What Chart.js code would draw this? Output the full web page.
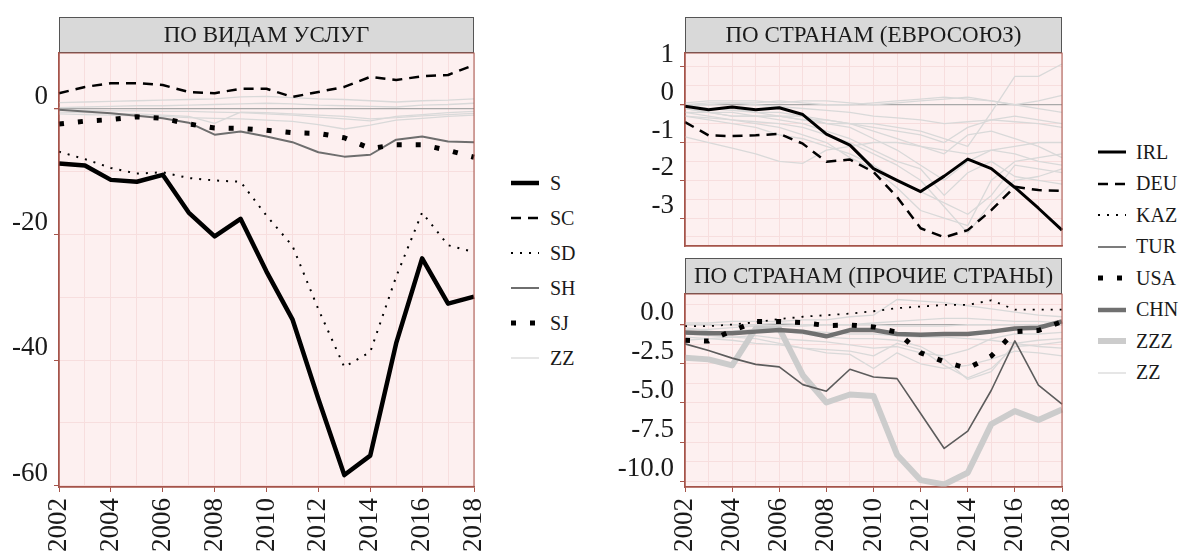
<!DOCTYPE html>
<html>
<head>
<meta charset="utf-8">
<script src="https://cdn.jsdelivr.net/npm/chart.js@4.4.0/dist/chart.umd.min.js"></script>
<style>
  body { margin: 0; width: 1184px; height: 553px; overflow: hidden; position: relative; background: #fff;
         font-family: "Liberation Serif", "Times New Roman", Tinos, "Nimbus Roman", "DejaVu Serif", "Noto Serif", serif; }
  .box { position: absolute; }
  .legend { position: absolute; color: #1a1a1a; font-size: 20px; }
  .legend .row { display: flex; align-items: center; }
  .legend svg { flex: none; }
</style>
</head>
<body>
<div class="box" style="left:0;top:0"><canvas id="services" width="490" height="553"></canvas></div>
<div class="box" style="left:600px;top:0"><canvas id="eu" width="480" height="250"></canvas></div>
<div class="box" style="left:600px;top:250px"><canvas id="other" width="480" height="303"></canvas></div>
<div class="legend" id="legServices" style="left:511px;top:165.5px"></div>
<div class="legend" id="legCountries" style="left:1098px;top:136.5px"></div>

<script>
const years = ["2002","2003","2004","2005","2006","2007","2008","2009","2010","2011","2012","2013","2014","2015","2016","2017","2018"];

// по видам услуг
const S  = [-8.7, -9.0, -11.3, -11.6, -10.5, -16.5, -20.3, -17.5, -25.9, -33.5, -46.2, -58.3, -55.2, -37.3, -23.8, -31.0, -29.9];
const SC = [2.5, 3.5, 4.1, 4.1, 3.8, 2.7, 2.5, 3.2, 3.2, 1.9, 2.7, 3.5, 5.1, 4.6, 5.2, 5.4, 7.0];
const SD = [-6.8, -8.0, -9.4, -10.3, -10.1, -11.0, -11.4, -11.6, -17.0, -21.8, -31.9, -41.1, -38.7, -26.7, -16.5, -21.7, -22.8];
const SH = [-0.15, -0.4, -0.7, -1.1, -1.5, -2.2, -4.1, -3.6, -4.4, -5.3, -6.9, -7.6, -7.3, -4.9, -4.4, -5.2, -5.3];
const SJ = [-2.4, -1.95, -1.7, -1.25, -1.5, -2.4, -3.05, -3.1, -3.4, -3.8, -3.9, -4.6, -6.3, -5.7, -5.7, -6.6, -7.7];
const zzServices = [
  [1.0, 1.1, 1.2, 1.3, 1.4, 1.5, 1.6, 1.9, 2.0, 1.8, 1.6, 1.5, 1.3, 1.1, 1.3, 1.4, 1.6],
  [0.2, 0.3, 0.4, 0.5, 0.5, 0.6, 0.7, 0.8, 0.9, 0.8, 0.6, 0.5, 0.4, 0.3, 0.6, 0.7, 0.9],
  [-0.5, -0.6, -0.7, -0.8, -1.0, -1.2, -2.3, -0.5, -0.6, -0.8, -1.0, -1.2, -1.6, -1.4, -1.1, -0.9, -0.7],
  [-0.8, -0.9, -1.0, -1.1, -1.2, -1.4, -1.5, -1.6, -1.8, -2.0, -2.5, -3.2, -2.6, -1.8, -1.5, -1.2, -1.0],
  [-0.2, -0.2, -0.3, -0.3, -0.4, -0.4, -0.5, -0.6, -0.8, -1.0, -1.3, -1.6, -1.9, -1.2, -0.9, -0.6, -0.4]
];

// по странам (евросоюз)
const IRL = [-0.04, -0.13, -0.06, -0.13, -0.08, -0.26, -0.78, -1.07, -1.69, -2.0, -2.3, -1.89, -1.44, -1.69, -2.19, -2.74, -3.32];
const DEU = [-0.46, -0.81, -0.83, -0.81, -0.77, -1.03, -1.51, -1.45, -1.78, -2.44, -3.27, -3.51, -3.32, -2.79, -2.17, -2.26, -2.28];
const zzEU = [
  [-0.1, -0.2, -0.2, -0.3, -0.3, -0.4, -0.4, -0.5, -0.5, -0.6, -0.7, -0.9, -1.1, -0.2, 0.75, 0.75, 1.08],
  [0.05, 0.1, 0.1, 0.1, 0.05, 0.1, 0.1, 0.05, 0.0, 0.05, 0.1, 0.15, 0.2, 0.1, 0.0, 0.1, 0.25],
  [-0.85, -1.0, -1.15, -1.3, -1.5, -1.55, -1.2, -1.1, -1.0, -1.0, -1.1, -1.2, -1.3, -1.2, -1.1, -1.0, -1.0],
  [-0.2, -0.3, -0.4, -0.5, -0.6, -0.8, -1.0, -1.4, -1.7, -2.2, -2.8, -3.0, -3.2, -2.0, -1.5, -1.4, -1.3],
  [-0.1, -0.2, -0.3, -0.3, -0.4, -0.5, -0.7, -0.9, -1.2, -1.5, -1.7, -2.4, -1.8, -1.5, -1.9, -2.0, -2.1],
  [0.0, -0.1, -0.1, -0.2, -0.2, -0.3, -0.4, -0.5, -0.7, -0.9, -1.1, -1.3, -0.8, -0.7, -0.9, -1.1, -1.4],
  [-0.3, -0.4, -0.5, -0.6, -0.8, -0.9, -1.1, -1.3, -1.6, -2.0, -2.3, -2.6, -2.9, -2.4, -1.6, -1.7, -1.8],
  [0.0, 0.0, 0.05, 0.05, 0.1, 0.05, 0.0, 0.0, 0.05, 0.1, 0.15, 0.2, 0.15, 0.1, 0.0, -0.1, -0.2],
  [-0.2, -0.2, -0.3, -0.3, -0.3, -0.4, -0.5, -0.5, -0.6, -0.7, -0.8, -1.0, -0.6, -0.4, -0.3, -0.4, -0.5],
  [-0.3, -0.35, -0.4, -0.45, -0.5, -0.6, -0.8, -1.0, -1.3, -1.6, -2.0, -2.7, -3.4, -2.6, -2.0, -1.9, -1.7],
  [-0.05, -0.1, -0.15, -0.2, -0.3, -0.3, -0.5, -0.6, -0.9, -1.2, -1.6, -2.0, -1.5, -1.2, -1.3, -1.5, -1.6],
  [0.0, 0.05, 0.05, 0.0, -0.05, -0.1, -0.15, -0.2, -0.3, -0.35, -0.4, -0.5, -0.45, -0.4, -0.45, -0.5, -0.6]
];

// по странам (прочие страны)
const KAZ = [-0.1, -0.1, 0.0, 0.15, 0.35, 0.5, 0.6, 0.7, 0.85, 1.05, 1.15, 1.25, 1.25, 1.55, 0.95, 0.95, 0.95];
const TUR = [-1.23, -1.65, -2.14, -2.54, -2.7, -3.83, -4.25, -2.85, -3.34, -3.45, -5.67, -7.9, -6.79, -4.19, -1.04, -3.87, -5.07];
const USA = [-1.0, -1.05, -0.4, 0.2, 0.2, 0.12, -0.06, -0.03, -0.15, -0.49, -1.8, -2.37, -2.8, -2.0, -0.45, -0.38, 0.19];
const CHN = [-0.5, -0.55, -0.55, -0.45, -0.35, -0.45, -0.75, -0.35, -0.35, -0.6, -0.65, -0.6, -0.6, -0.45, -0.25, -0.2, 0.2];
const ZZZ = [-2.11, -2.22, -2.6, -0.25, -0.25, -3.23, -4.97, -4.46, -4.55, -8.3, -9.92, -10.2, -9.45, -6.35, -5.52, -6.09, -5.41];
const zzOther = [
  [0.1, 0.1, 0.2, 0.2, 0.2, 0.3, 0.3, 0.5, 0.6, 1.6, 1.5, 1.4, 1.2, 1.0, 0.8, 0.6, 0.5],
  [-0.3, -0.3, -0.2, -0.1, -0.1, -0.1, 0.0, 0.0, 0.1, 0.2, 0.3, 0.4, 0.4, 0.3, 0.2, 0.2, 0.1],
  [-0.6, -0.7, -0.8, -0.9, -1.2, -1.5, -1.6, -1.7, -2.0, -1.2, -1.6, -2.6, -3.4, -2.8, -1.4, -1.3, -1.1],
  [-0.8, -0.9, -1.0, -1.2, -1.3, -1.5, -1.8, -1.9, -2.8, -1.8, -2.5, -2.8, -2.6, -2.2, -1.7, -1.8, -2.0],
  [-0.2, -0.4, -0.6, -0.5, -0.4, -0.6, -0.8, -0.9, -0.9, -1.0, -1.4, -2.2, -3.5, -3.0, -1.2, -1.0, -0.9],
  [0.0, 0.0, 0.0, 0.0, 0.1, 0.0, 0.0, 0.0, 0.0, -0.1, -0.1, -0.1, 0.0, 0.0, 0.0, 0.0, 0.0],
  [-1.0, -0.9, -0.8, -0.7, -0.9, -1.0, -1.1, -1.3, -1.5, -1.4, -1.8, -2.0, -1.6, -0.9, -0.6, -0.6, -0.5],
  [-0.5, -0.5, -0.4, -0.3, -0.3, -0.4, -0.5, -0.6, -0.6, -0.7, -0.8, -0.8, -0.9, -1.0, -1.2, -1.4, -1.5]
];

// y tick positions (grid) per panel; labels only on the major ones
const yTicksServices = [-60, -50, -40, -30, -20, -10, 0];
const yTicksEU = [-3.5, -3, -2.5, -2, -1.5, -1, -0.5, 0, 0.5, 1];
const yTicksOther = [-10, -8.75, -7.5, -6.25, -5, -3.75, -2.5, -1.25, 0, 1.25];

const serif = '"Liberation Serif", "Times New Roman", Tinos, "Nimbus Roman", "DejaVu Serif", "Noto Serif", serif';
const axisCol = '#a5554b';
const gridCol = '#f7dede';
const zeroCol = '#a9a9a9';
const noCol = 'rgba(0,0,0,0)';
const tickFont = { family: serif, size: 27 };

const st = {
  S:   { color: '#000000', width: 4.5, dash: [] },
  SC:  { color: '#000000', width: 2.5, dash: [10, 7] },
  SD:  { color: '#000000', width: 2,   dash: [2, 7] },
  SH:  { color: '#6e6e6e', width: 2,   dash: [] },
  SJ:  { color: '#000000', width: 5,   dash: [5, 14] },
  ZZ:  { color: '#d9d9d9', width: 1.3, dash: [] },
  IRL: { color: '#000000', width: 3,   dash: [] },
  DEU: { color: '#000000', width: 2.5, dash: [10, 7] },
  KAZ: { color: '#000000', width: 1.8, dash: [2, 7] },
  TUR: { color: '#5c5c5c', width: 1.6, dash: [] },
  USA: { color: '#000000', width: 5,   dash: [5, 14] },
  CHN: { color: '#707070', width: 4.5, dash: [] },
  ZZZ: { color: '#cccccc', width: 6,   dash: [] }
};

function line(data, s) {
  return { data, borderColor: s.color, borderWidth: s.width, borderDash: s.dash,
           borderCapStyle: 'butt', borderJoinStyle: 'round', pointRadius: 0, tension: 0, fill: false };
}

const panelDecor = {
  id: 'panelDecor',
  beforeDraw(chart, args, opts) {
    const { ctx, chartArea: a } = chart;
    ctx.save();
    ctx.fillStyle = '#fdf0f0';
    ctx.fillRect(a.left, a.top, a.width, a.height);
    ctx.fillStyle = '#d9d9d9';
    ctx.fillRect(a.left, a.top - 36, a.width, 36);
    ctx.strokeStyle = '#555555';
    ctx.lineWidth = 1;
    ctx.strokeRect(a.left + 0.5, a.top - 35.5, a.width - 1, 35);
    ctx.fillStyle = '#1a1a1a';
    ctx.font = '23px ' + serif;
    ctx.textAlign = 'center';
    ctx.textBaseline = 'middle';
    ctx.fillText(opts.title, (a.left + a.right) / 2, a.top - 17);
    ctx.restore();
  },
  afterDraw(chart) {
    const { ctx, chartArea: a } = chart;
    ctx.save();
    ctx.strokeStyle = axisCol;
    ctx.lineWidth = 1;
    ctx.strokeRect(a.left, a.top, a.width, a.height);
    ctx.restore();
  }
};

function yScale(min, max, tickVals, isMajor, fmt, w) {
  return {
    min, max,
    afterBuildTicks: s => { s.ticks = tickVals.map(v => ({ value: v })); },
    afterFit: s => { s.width = w; s.paddingTop = 0; s.paddingBottom = 0; },
    border: { color: axisCol, width: 1.5 },
    grid: {
      color: c => (c.tick && Math.abs(c.tick.value) < 1e-9) ? zeroCol : gridCol,
      lineWidth: c => (c.tick && Math.abs(c.tick.value) < 1e-9) ? 1.3 : 1,
      tickLength: 5,
      tickColor: c => (c.tick && isMajor(c.tick.value)) ? axisCol : noCol
    },
    ticks: {
      autoSkip: false, labelOffset: -12, padding: 6,
      color: '#1a1a1a', font: tickFont,
      callback: v => isMajor(v) ? fmt(v) : ''
    }
  };
}

function xScale(h, showLabels) {
  return {
    type: 'category', offset: false,
    afterFit: s => { s.height = h; s.paddingLeft = 0; s.paddingRight = 0; },
    border: { color: axisCol, width: 1.5 },
    grid: {
      color: gridCol, drawTicks: showLabels, tickLength: 5,
      tickColor: c => (c.index % 2 === 0) ? axisCol : noCol
    },
    ticks: {
      display: showLabels, autoSkip: false, minRotation: 90, maxRotation: 90, padding: 6,
      color: '#1a1a1a', font: tickFont,
      callback: (v, i) => i % 2 === 0 ? years[i] : ''
    }
  };
}

function opts(title, pad, x, y) {
  return {
    responsive: false, animation: false, events: [],
    layout: { padding: pad },
    plugins: { legend: { display: false }, tooltip: { enabled: false }, panelDecor: { title } },
    scales: { x, y }
  };
}

const near = (v, m) => Math.abs(v / m - Math.round(v / m)) < 1e-6;

new Chart(document.getElementById('services'), {
  type: 'line',
  data: {
    labels: years,
    datasets: [line(S, st.S), line(SC, st.SC), line(SD, st.SD), line(SJ, st.SJ), line(SH, st.SH)]
      .concat(zzServices.map(d => line(d, st.ZZ)))
  },
  options: opts('ПО ВИДАМ УСЛУГ', { left: 0, top: 53, right: 16, bottom: 0 },
    xScale(66, true),
    yScale(-60.2, 8.9, yTicksServices, v => near(v, 20), v => String(v), 59)),
  plugins: [panelDecor]
});

new Chart(document.getElementById('eu'), {
  type: 'line',
  data: {
    labels: years,
    datasets: [line(IRL, st.IRL), line(DEU, st.DEU)].concat(zzEU.map(d => line(d, st.ZZ)))
  },
  options: opts('ПО СТРАНАМ (ЕВРОСОЮЗ)', { left: 0, top: 53, right: 18, bottom: 0 },
    xScale(4, false),
    yScale(-3.74, 1.37, yTicksEU, v => near(v, 1), v => String(Math.round(v)), 85)),
  plugins: [panelDecor]
});

new Chart(document.getElementById('other'), {
  type: 'line',
  data: {
    labels: years,
    datasets: [line(USA, st.USA), line(KAZ, st.KAZ), line(CHN, st.CHN), line(TUR, st.TUR), line(ZZZ, st.ZZZ)]
      .concat(zzOther.map(d => line(d, st.ZZ)))
  },
  options: opts('ПО СТРАНАМ (ПРОЧИЕ СТРАНЫ)', { left: 0, top: 44, right: 18, bottom: 0 },
    xScale(66, true),
    yScale(-10.36, 1.95, yTicksOther, v => near(v, 2.5), v => (Math.round(v * 10) / 10).toFixed(1), 85)),
  plugins: [panelDecor]
});

function buildLegend(id, names, rowH, gap) {
  const el = document.getElementById(id);
  names.forEach(n => {
    const s = st[n];
    const row = document.createElement('div');
    row.className = 'row';
    row.style.height = rowH + 'px';
    row.innerHTML = '<svg width="28" height="10"><line x1="0" y1="5" x2="28" y2="5" stroke="' + s.color +
      '" stroke-width="' + s.width + '" stroke-dasharray="' + (s.dash.length ? s.dash.join(',') : 'none') +
      '"/></svg><span style="margin-left:' + gap + 'px">' + n + '</span>';
    el.appendChild(row);
  });
}
buildLegend('legServices', ['S', 'SC', 'SD', 'SH', 'SJ', 'ZZ'], 35, 11);
buildLegend('legCountries', ['IRL', 'DEU', 'KAZ', 'TUR', 'USA', 'CHN', 'ZZZ', 'ZZ'], 31.5, 10);
</script>
</body>
</html>
